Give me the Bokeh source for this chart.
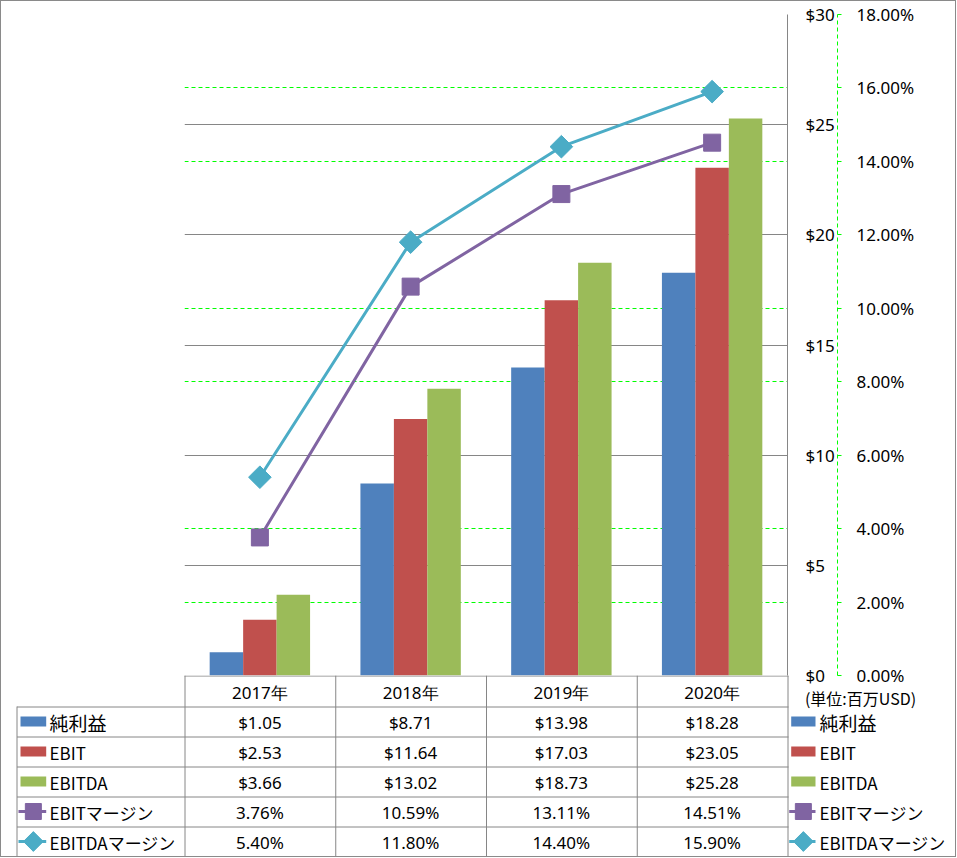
import math
from bokeh.plotting import figure
from bokeh.models import (FactorRange, Range1d, LinearAxis, FixedTicker,
                          NumeralTickFormatter, Grid, ColumnDataSource)
from bokeh.transform import dodge
from bokeh.layouts import column
from bokeh.core.properties import value
from bokeh.embed import file_html
from bokeh.resources import INLINE

# ---------------- data ----------------
years = ["2017年", "2018年", "2019年", "2020年"]
net_income = [1.05, 8.71, 13.98, 18.28]
ebit = [2.53, 11.64, 17.03, 23.05]
ebitda = [3.66, 13.02, 18.73, 25.28]
ebit_margin = [3.76, 10.59, 13.11, 14.51]      # percent
ebitda_margin = [5.40, 11.80, 14.40, 15.90]    # percent
usd_ticks = [0, 5, 10, 15, 20, 25, 30]
pct_ticks = [0, 2, 4, 6, 8, 10, 12, 14, 16, 18]
pct_grid_ticks = [2, 4, 8, 10, 14, 16]         # (6% and 12% coincide with $10 / $20)
series_names = ["純利益", "EBIT", "EBITDA", "EBITマージン", "EBITDAマージン"]
unit_label = "(単位:百万USD)"

# ---------------- style ----------------
BLUE, RED, GREEN, PURPLE, TEAL = "#4F81BD", "#C0504D", "#9BBB59", "#8064A2", "#4BACC6"
GRAY = "#868686"
LIME = "#00FF00"
NUM_FONT = value("Noto Sans")
JP_FONT = value("Noto Sans CJK JP")
FS = "17px"
label_sizes = ["19px", "17px", "17px", "17px", "17px"]

W = 954
EXTRA = 12          # room under the chart frame for the bottom axis labels
TOP_H = 674 + EXTRA
TAB_H = 181
FRAME_L = 183
FRAME_R = 786
FRAME_T = 13

# ---------------- chart ----------------
p = figure(width=W, height=TOP_H,
           x_range=FactorRange(*years), y_range=Range1d(0, 30),
           output_backend="svg", toolbar_location=None,
           x_axis_location=None, y_axis_location=None,
           min_border_left=FRAME_L, min_border_right=W - FRAME_R,
           min_border_top=FRAME_T, min_border_bottom=EXTRA)
p.frame_align = False
p.outline_line_color = None
p.xgrid.visible = False
p.ygrid.visible = False
p.extra_y_ranges = {"pct": Range1d(0, 0.18)}

p.add_layout(Grid(dimension=1, y_range_name="pct",
                  ticker=FixedTicker(ticks=[t / 100 for t in pct_grid_ticks]),
                  grid_line_color=LIME, grid_line_width=1, grid_line_dash="4 3"))
p.add_layout(Grid(dimension=1, ticker=FixedTicker(ticks=usd_ticks[1:]),
                  grid_line_color=GRAY, grid_line_width=1))

ax_usd = LinearAxis(ticker=FixedTicker(ticks=usd_ticks),
                    formatter=NumeralTickFormatter(format="$0"),
                    axis_line_color=GRAY, major_tick_out=0, major_tick_in=0,
                    minor_tick_out=0, minor_tick_in=0, major_label_standoff=18,
                    major_label_text_font="Noto Sans", major_label_text_font_size=FS,
                    major_label_text_color="black")
p.add_layout(ax_usd, "right")
ax_pct = LinearAxis(y_range_name="pct",
                    ticker=FixedTicker(ticks=[t / 100 for t in pct_ticks]),
                    formatter=NumeralTickFormatter(format="0.00%"),
                    axis_line_color=LIME, axis_line_dash="4 3",
                    major_tick_line_color=LIME, major_tick_out=4, major_tick_in=0,
                    minor_tick_out=0, minor_tick_in=0, major_label_standoff=15,
                    major_label_text_font="Noto Sans", major_label_text_font_size=FS,
                    major_label_text_color="black")
p.add_layout(ax_pct, "right")

src = ColumnDataSource(dict(year=years, net=net_income, ebit=ebit, ebitda=ebitda,
                            ebit_m=[v / 100 for v in ebit_margin],
                            ebitda_m=[v / 100 for v in ebitda_margin]))
BW = 0.222
for off, col, c in [(-BW, "net", BLUE), (0, "ebit", RED), (BW, "ebitda", GREEN)]:
    p.vbar(x=dodge("year", off, range=p.x_range), top=col, width=BW, source=src,
           fill_color=c, line_color=None)

p.line("year", "ebit_m", source=src, y_range_name="pct", line_color=PURPLE, line_width=3)
p.scatter("year", "ebit_m", source=src, y_range_name="pct", marker="square", size=17,
          fill_color=PURPLE, line_color=PURPLE)
p.line("year", "ebitda_m", source=src, y_range_name="pct", line_color=TEAL, line_width=3)
p.scatter("year", "ebitda_m", source=src, y_range_name="pct", marker="square", size=16,
          angle=math.pi / 4, fill_color=TEAL, line_color=TEAL)

# ---------------- data table ----------------
t = figure(width=W, height=TAB_H, x_range=Range1d(0, W), y_range=Range1d(TAB_H, 0),
           output_backend="svg", toolbar_location=None,
           x_axis_location=None, y_axis_location=None, min_border=0,
           styles={"margin-top": f"-{EXTRA}px"})
t.frame_align = False
t.outline_line_color = None
t.background_fill_color = None
t.border_fill_color = None
t.xgrid.visible = False
t.ygrid.visible = False

HEAD_H = 31
n_rows = len(series_names)
ROW_H = (TAB_H - HEAD_H) / n_rows
LEFT_COL = 15.5
colw = (FRAME_R - FRAME_L) / len(years)
col_edges = [FRAME_L + 0.5 + i * colw for i in range(len(years) + 1)]
col_centers = [FRAME_L + (i + 0.5) * colw for i in range(len(years))]
row_lines = [HEAD_H + 0.5 + k * ROW_H for k in range(n_rows)]
row_centers = [HEAD_H + (k + 0.5) * ROW_H for k in range(n_rows)]

x0s, y0s, x1s, y1s = [], [], [], []
x0s.append(FRAME_L); x1s.append(FRAME_R + 1); y0s.append(0.5); y1s.append(0.5)
for y in row_lines:
    x0s.append(LEFT_COL); x1s.append(FRAME_R + 1); y0s.append(y); y1s.append(y)
for x in col_edges:
    x0s.append(x); x1s.append(x); y0s.append(0); y1s.append(TAB_H)
x0s.append(LEFT_COL); x1s.append(LEFT_COL); y0s.append(HEAD_H); y1s.append(TAB_H)
t.segment(x0=x0s, y0=y0s, x1=x1s, y1=y1s, line_color=GRAY, line_width=1)

# header
t.text(x=col_centers, y=[HEAD_H / 2 + 1] * len(years), text=years,
       text_align="center", text_baseline="middle", text_font=NUM_FONT,
       text_font_size=FS, text_color="black")
t.text(x=[859], y=[22], text=[unit_label], text_align="center",
       text_baseline="middle", text_font=JP_FONT, text_font_size="16px", text_color="black")

# values
value_rows = [["$%.2f" % v for v in net_income],
              ["$%.2f" % v for v in ebit],
              ["$%.2f" % v for v in ebitda],
              ["%.2f%%" % v for v in ebit_margin],
              ["%.2f%%" % v for v in ebitda_margin]]
vx, vy, vt = [], [], []
for k, row in enumerate(value_rows):
    for i, s in enumerate(row):
        vx.append(col_centers[i]); vy.append(row_centers[k] + 1); vt.append(s)
t.text(x=vx, y=vy, text=vt, text_align="center", text_baseline="middle",
       text_font=NUM_FONT, text_font_size=FS, text_color="black")

# legend keys (left column and right legend)
bar_colors = [BLUE, RED, GREEN]
for sw_l, sw_r, tx in [(19, 44.7, 48), (789.7, 814, 818)]:
    for k in range(3):
        t.quad(left=[sw_l], right=[sw_r], top=[row_centers[k] - 5], bottom=[row_centers[k] + 5],
               fill_color=bar_colors[k], line_color=None)
    mid = (sw_l + sw_r) / 2
    for k, c, ang, sz in [(3, PURPLE, 0, 16), (4, TEAL, math.pi / 4, 14)]:
        t.segment(x0=[sw_l - 2], x1=[sw_r], y0=[row_centers[k]], y1=[row_centers[k]],
                  line_color=c, line_width=3)
        t.scatter(x=[mid], y=[row_centers[k]], marker="square", size=sz, angle=ang,
                  fill_color=c, line_color=c)
    lsrc = ColumnDataSource(dict(x=[tx] * n_rows, y=[rc + 1 for rc in row_centers],
                                 text=series_names, fs=label_sizes))
    t.text(x="x", y="y", text="text", source=lsrc, text_font_size="fs",
           text_align="left", text_baseline="middle", text_font=JP_FONT,
           text_color="black")

layout = column(p, t, styles={"border": "1px solid #8a8a8a"})
open("out.html", "w").write(file_html(layout, INLINE))
